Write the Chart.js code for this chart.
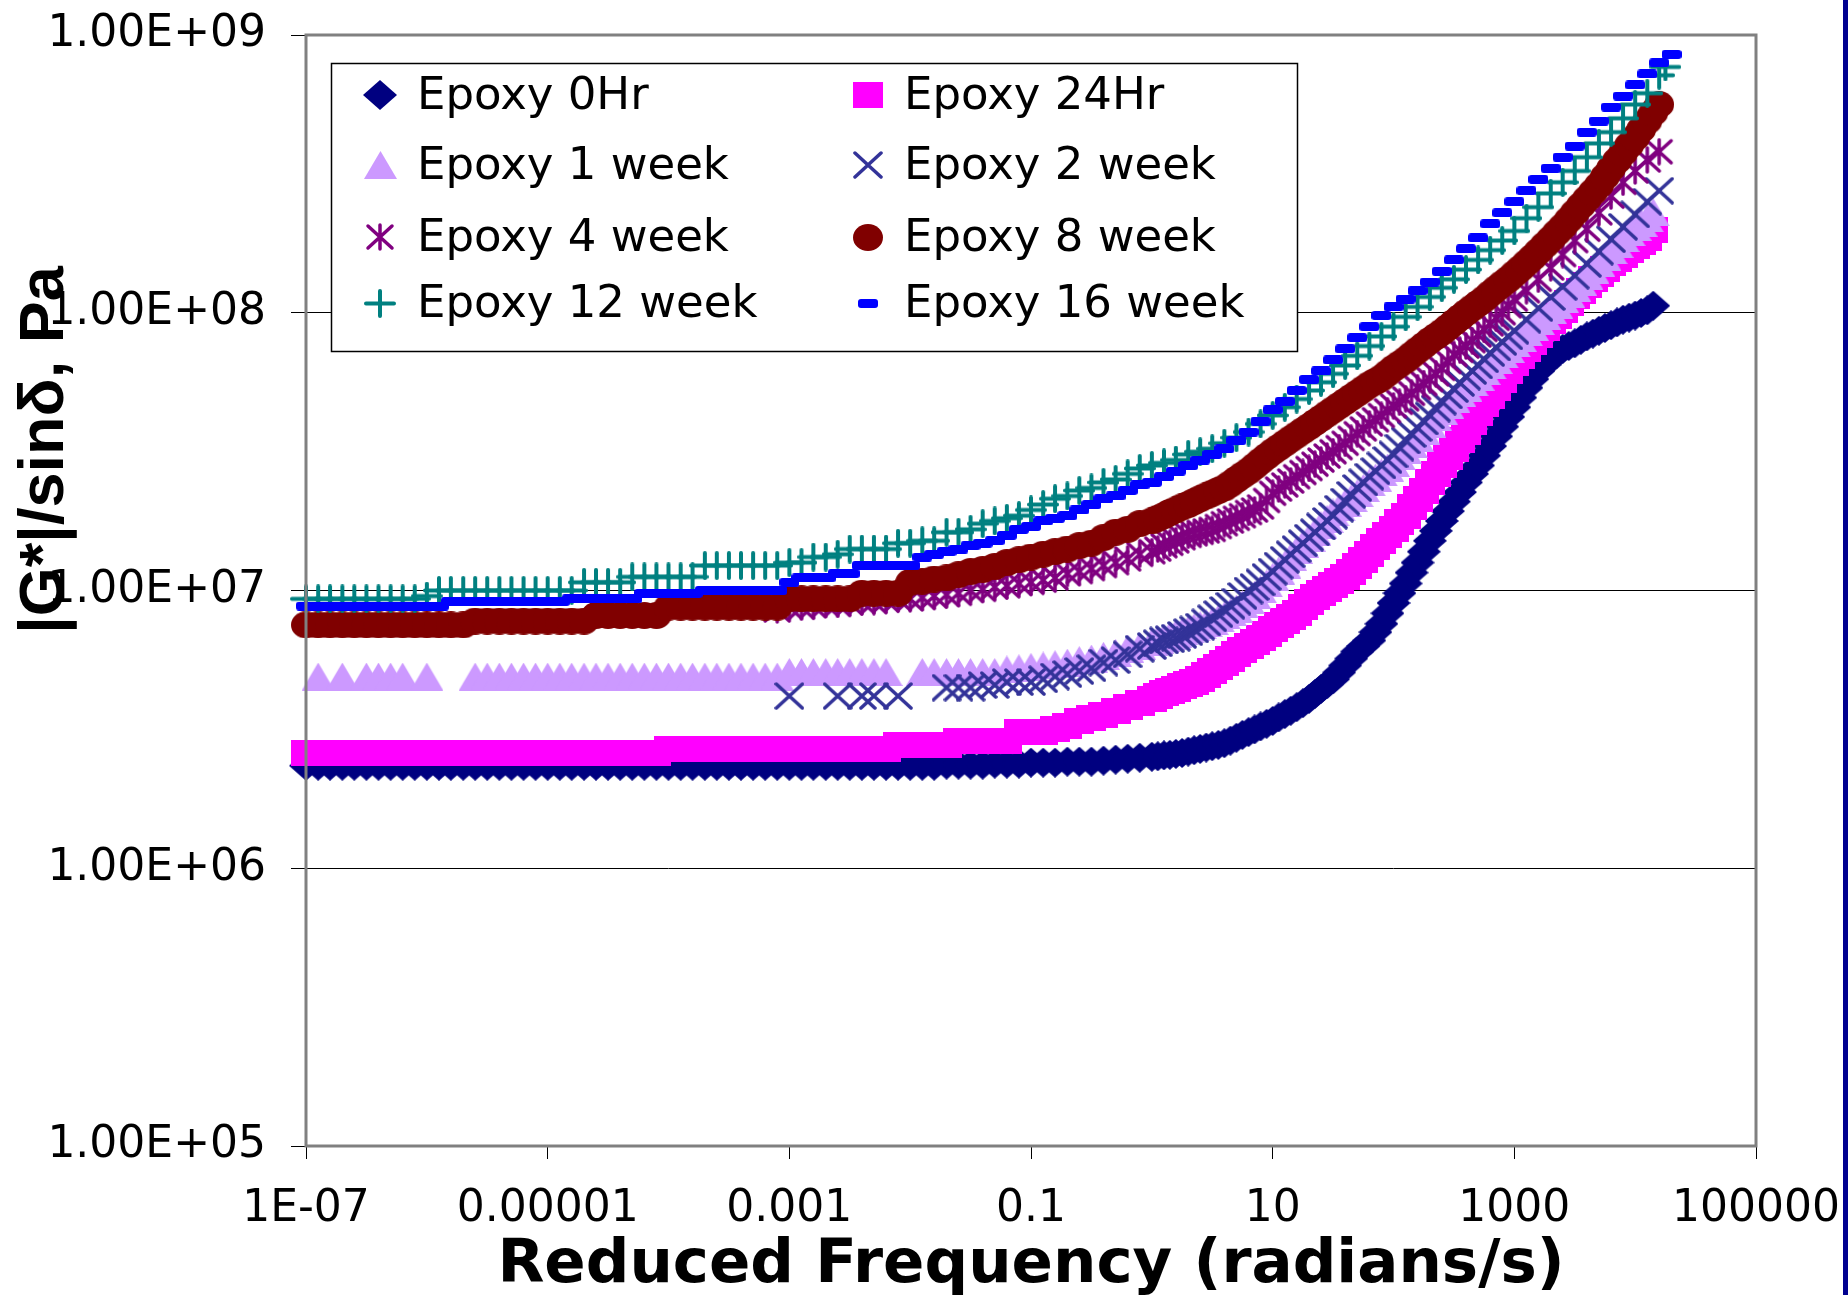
<!DOCTYPE html>
<html>
<head>
<meta charset="utf-8">
<title>Epoxy |G*|/sin&delta; vs reduced frequency</title>
<script src="https://cdn.jsdelivr.net/npm/chart.js@4.4.1/dist/chart.umd.min.js"></script>
<style>
  html, body { margin: 0; padding: 0; background: #fff; overflow: hidden; }
  #wrap { position: relative; width: 1848px; height: 1295px; }
  #edge { position: absolute; top: 0; left: 1843px; width: 5px; height: 1295px; background: #000090; }
</style>
</head>
<body>
<div id="wrap">
  <canvas id="chart" width="1848" height="1295"></canvas>
  <div id="edge"></div>
</div>
<script>
// reduced frequency (rad/s): 10 points per decade below 1 rad/s, 20 per decade above
const freq = [
  1e-7, 1.26e-7, 1.58e-7, 2e-7, 2.51e-7, 3.16e-7, 3.98e-7, 5.01e-7, 6.31e-7, 7.94e-7,
  1e-6, 1.26e-6, 1.58e-6, 2e-6, 2.51e-6, 3.16e-6, 3.98e-6, 5.01e-6, 6.31e-6, 7.94e-6,
  1e-5, 1.26e-5, 1.58e-5, 2e-5, 2.51e-5, 3.16e-5, 3.98e-5, 5.01e-5, 6.31e-5, 7.94e-5,
  1e-4, 1.26e-4, 1.58e-4, 2e-4, 2.51e-4, 3.16e-4, 3.98e-4, 5.01e-4, 6.31e-4, 7.94e-4,
  1e-3, 1.26e-3, 1.58e-3, 2e-3, 2.51e-3, 3.16e-3, 3.98e-3, 5.01e-3, 6.31e-3, 7.94e-3,
  1e-2, 1.26e-2, 1.58e-2, 2e-2, 2.51e-2, 3.16e-2, 3.98e-2, 5.01e-2, 6.31e-2, 7.94e-2,
  1e-1, 1.26e-1, 1.58e-1, 2e-1, 2.51e-1, 3.16e-1, 3.98e-1, 5.01e-1, 6.31e-1, 7.94e-1,
  1e0, 1.12e0, 1.26e0, 1.41e0, 1.58e0, 1.78e0, 2e0, 2.24e0, 2.51e0, 2.82e0,
  3.16e0, 3.55e0, 3.98e0, 4.47e0, 5.01e0, 5.62e0, 6.31e0, 7.08e0, 7.94e0, 8.91e0,
  1e1, 1.12e1, 1.26e1, 1.41e1, 1.58e1, 1.78e1, 2e1, 2.24e1, 2.51e1, 2.82e1,
  3.16e1, 3.55e1, 3.98e1, 4.47e1, 5.01e1, 5.62e1, 6.31e1, 7.08e1, 7.94e1, 8.91e1,
  1e2, 1.12e2, 1.26e2, 1.41e2, 1.58e2, 1.78e2, 2e2, 2.24e2, 2.51e2, 2.82e2,
  3.16e2, 3.55e2, 3.98e2, 4.47e2, 5.01e2, 5.62e2, 6.31e2, 7.08e2, 7.94e2, 8.91e2,
  1e3, 1.12e3, 1.26e3, 1.41e3, 1.58e3, 1.78e3, 2e3, 2.24e3, 2.51e3, 2.82e3,
  3.16e3, 3.55e3, 3.98e3, 4.47e3, 5.01e3, 5.62e3, 6.31e3, 7.08e3, 7.94e3, 8.91e3,
  1e4, 1.12e4, 1.26e4, 1.41e4, 1.58e4, 1.78e4, 2e4
];

// |G*|/sin(delta) in MPa, one value per freq entry (null = no point there)
const g0Hr = [
  2.34, 2.34, 2.34, 2.34, 2.34, 2.34, 2.34, 2.34, 2.34, 2.34,
  2.34, 2.34, 2.34, 2.34, 2.34, 2.34, 2.34, 2.34, 2.34, 2.34,
  2.34, 2.34, 2.34, 2.34, 2.34, 2.34, 2.34, 2.34, 2.34, 2.34,
  2.34, 2.34, 2.34, 2.34, 2.34, 2.34, 2.34, 2.34, 2.34, 2.34,
  2.34, 2.34, 2.34, 2.34, 2.34, 2.34, 2.34, 2.34, 2.34, 2.34,
  2.34, 2.34, 2.34, 2.36, 2.36, 2.36, 2.36, 2.38, 2.38, 2.38,
  2.40, 2.40, 2.40, 2.42, 2.42, 2.42, 2.44, 2.46, 2.48, 2.50,
  2.52, 2.53, 2.55, 2.56, 2.58, 2.60, 2.63, 2.66, 2.69, 2.72,
  2.75, 2.78, 2.82, 2.88, 2.95, 3.02, 3.09, 3.16, 3.24, 3.31,
  3.39, 3.49, 3.59, 3.69, 3.80, 3.93, 4.07, 4.24, 4.42, 4.60,
  4.79, 5.07, 5.37, 5.69, 6.03, 6.31, 6.61, 7.08, 7.59, 8.28,
  9.02, 9.78, 10.6, 11.6, 12.6, 13.8, 15.1, 16.4, 17.8, 19.3,
  20.9, 22.6, 24.5, 26.3, 28.2, 30.6, 33.1, 35.9, 38.9, 42.2,
  45.7, 49.5, 53.7, 57.7, 61.7, 65.0, 68.4, 71.3, 74.1, 75.9,
  77.6, 79.9, 82.2, 84.1, 86.1, 88.1, 90.2, 92.3, 94.4, 96.0,
  97.7, 99.8, 102, 106, null, null, null
];
const g24Hr = [
  2.61, 2.61, 2.61, 2.61, 2.61, 2.61, 2.61, 2.61, 2.61, 2.61,
  2.61, 2.61, 2.61, 2.61, 2.61, 2.61, 2.61, 2.61, 2.61, 2.61,
  2.61, 2.61, 2.61, 2.61, 2.61, 2.61, 2.61, 2.61, 2.61, 2.61,
  2.69, 2.69, 2.69, 2.69, 2.69, 2.69, 2.69, 2.69, 2.69, 2.69,
  2.69, 2.69, 2.69, 2.69, 2.69, 2.69, 2.69, 2.69, 2.69, 2.78,
  2.78, 2.78, 2.78, 2.78, 2.88, 2.88, 2.88, 2.88, 2.88, 3.09,
  3.09, 3.09, 3.16, 3.24, 3.39, 3.47, 3.55, 3.67, 3.80, 3.93,
  4.07, 4.17, 4.27, 4.34, 4.42, 4.52, 4.62, 4.70, 4.79, 4.96,
  5.13, 5.31, 5.50, 5.69, 5.89, 6.10, 6.31, 6.53, 6.76, 7.00,
  7.24, 7.50, 7.76, 8.04, 8.32, 8.71, 9.12, 9.44, 9.77, 10.1,
  10.5, 10.8, 11.2, 11.7, 12.3, 12.9, 13.5, 14.3, 15.1, 15.8,
  16.6, 17.6, 18.6, 20.0, 21.4, 22.9, 24.5, 26.3, 28.2, 30.2,
  32.4, 34.7, 37.2, 40.3, 43.7, 46.8, 50.1, 53.7, 57.5, 61.7,
  66.1, 70.0, 74.1, 78.5, 83.2, 88.1, 93.3, 97.7, 102, 108,
  115, 120, 126, 132, 138, 144, 151, 156, 162, 168,
  174, 180, 186, 198, null, null, null
];
const g1wk = [
  null, 4.90, null, 4.90, null, 4.90, 4.90, 4.90, 4.90, null,
  4.90, null, null, null, 4.90, 4.90, 4.90, 4.90, 4.90, 4.90,
  4.90, 4.90, 4.90, 4.90, 4.90, 4.90, 4.90, 4.90, 4.90, 4.90,
  4.90, 4.90, 4.90, 4.90, 4.90, 4.90, 4.90, 4.90, 4.90, 4.90,
  5.09, 5.09, 5.09, 5.09, 5.09, 5.09, 5.09, 5.09, 5.09, null,
  null, 5.09, 5.09, 5.09, 5.09, 5.09, 5.09, 5.09, 5.20, 5.25,
  5.31, 5.37, 5.43, 5.50, 5.62, 5.69, 5.82, 5.96, 6.17, 6.31,
  6.53, 6.64, 6.76, 6.88, 7.00, 7.12, 7.24, 7.37, 7.50, 7.63,
  7.76, 7.94, 8.13, 8.37, 8.61, 8.91, 9.23, 9.65, 10.1, 10.6,
  11.2, 11.8, 12.4, 13.2, 14.0, 14.7, 15.5, 16.3, 17.2, 18.1,
  19.1, 19.9, 20.7, 21.5, 22.4, 23.4, 24.5, 25.5, 26.6, 27.7,
  28.8, 30.4, 32.0, 33.7, 35.5, 37.6, 39.8, 42.0, 44.2, 46.5,
  49.0, 51.3, 53.7, 56.2, 58.9, 61.7, 64.6, 67.6, 70.8, 74.1,
  77.6, 81.3, 85.1, 89.1, 93.3, 97.7, 102, 107, 112, 117,
  123, 129, 136, 143, 151, 159, 168, 177, 186, 195,
  204, 211, 219, 230, null, null, null
];
const g2wk = [
  null, null, null, null, null, null, null, null, null, null,
  null, null, null, null, null, null, null, null, null, null,
  null, null, null, null, null, null, null, null, null, null,
  null, null, null, null, null, null, null, null, null, null,
  4.17, null, null, null, 4.17, null, 4.17, 4.17, null, 4.17,
  null, null, null, 4.47, 4.47, 4.47, 4.57, 4.57, 4.68, 4.68,
  4.68, 4.79, 4.90, 5.00, 5.13, 5.25, 5.50, 5.62, 5.89, 6.17,
  6.31, 6.46, 6.61, 6.68, 6.76, 6.92, 7.08, 7.24, 7.41, 7.67,
  7.94, 8.22, 8.51, 8.81, 9.12, 9.55, 10.0, 10.3, 10.7, 11.2,
  11.7, 12.3, 12.9, 13.5, 14.1, 14.8, 15.5, 16.2, 17.0, 17.8,
  18.6, 19.7, 20.9, 22.1, 23.4, 24.5, 25.7, 26.9, 28.2, 29.5,
  30.9, 32.7, 34.7, 36.6, 38.5, 40.6, 42.7, 45.2, 47.9, 50.4,
  53.1, 55.9, 58.9, 61.7, 64.6, 68.0, 71.6, 75.0, 78.5, 82.2,
  86.1, null, 94.4, null, 104, null, 114, null, 124, null,
  136, null, 150, null, 166, null, 184, null, 204, null,
  226, null, 251, null, 275, null, null
];
const g4wk = [
  null, null, null, null, null, null, null, null, null, null,
  null, null, null, null, null, null, null, null, null, null,
  null, null, null, null, null, null, null, null, null, null,
  null, null, null, null, null, null, null, null, null, 8.51,
  8.71, 8.71, 8.81, 8.91, 8.91, 9.02, 9.12, 9.12, 9.23, 9.33,
  9.33, 9.44, 9.55, 9.66, 9.77, 10.0, 10.1, 10.3, 10.4, 10.6,
  10.7, 10.9, 11.1, 11.5, 11.7, 12.0, 12.3, 12.6, 13.0, 13.5,
  13.8, 14.1, 14.5, 14.8, 15.1, 15.5, 15.8, 16.0, 16.2, 16.4,
  16.6, 17.0, 17.4, 17.8, 18.2, 18.6, 19.1, 19.5, 20.0, 21.1,
  22.4, 23.2, 24.0, 24.8, 25.7, 26.6, 27.5, 28.5, 29.5, 30.5,
  31.6, 32.7, 33.9, 35.3, 36.7, 38.2, 39.8, 41.2, 42.7, 44.4,
  46.2, 47.6, 49.0, 51.3, 53.7, 55.6, 57.5, 60.3, 63.1, 66.8,
  70.8, 73.3, 75.9, 79.4, 83.2, 87.1, 91.2, 95.5, 100, 106,
  112, null, 120, null, 132, null, 145, null, 162, null,
  182, null, 200, null, 229, null, 263, null, 295, null,
  324, null, 355, null, 380, null, null
];
const g8wk = [
  7.52, 7.52, 7.52, 7.52, 7.52, 7.52, 7.52, 7.52, 7.52, 7.52,
  7.52, 7.52, 7.52, 7.52, 7.76, 7.76, 7.76, 7.76, 7.76, 7.76,
  7.76, 7.76, 7.76, 7.76, 8.13, 8.13, 8.13, 8.13, 8.13, 8.13,
  8.71, 8.71, 8.71, 8.71, 8.71, 8.71, 8.71, 8.71, 8.71, 8.71,
  9.33, 9.33, 9.33, 9.33, 9.33, 9.33, 9.77, 9.77, 9.77, 9.77,
  10.7, 10.8, 11.0, 11.1, 11.4, 11.7, 11.9, 12.2, 12.6, 12.9,
  13.2, 13.5, 13.8, 14.1, 14.5, 14.8, 15.5, 16.2, 16.6, 17.4,
  17.8, 18.2, 18.6, 19.1, 19.5, 20.0, 20.4, 20.9, 21.4, 21.9,
  22.4, 22.9, 23.4, 24.2, 25.1, 26.0, 26.9, 28.0, 29.2, 30.4,
  31.6, 32.7, 33.9, 35.1, 36.3, 37.6, 38.9, 40.3, 41.7, 43.2,
  44.7, 46.3, 47.9, 49.6, 51.3, 53.1, 55.0, 56.6, 58.2, 60.6,
  63.1, 65.3, 67.6, 70.4, 73.3, 76.3, 79.4, 82.2, 85.1, 88.6,
  92.3, 96.1, 100, 104, 108, 112, 117, 122, 127, 132,
  138, 144, 151, 158, 166, 175, 184, 194, 204, 216,
  229, 243, 257, 272, 288, 309, 331, 353, 376, 401,
  427, 457, 490, 525, 562, null, null
];
const g12wk = [
  9.33, 9.33, 9.33, 9.33, 9.33, 9.33, 9.33, 9.33, 9.33, 9.33,
  9.55, 10.0, 10.0, 10.0, 10.0, 10.0, 10.0, 10.0, 10.0, 10.0,
  10.0, 10.0, 10.0, 10.7, 10.7, 10.7, 10.7, 11.2, 11.2, 11.2,
  11.2, 11.2, 11.2, 12.3, 12.3, 12.3, 12.3, 12.3, 12.3, 12.3,
  12.6, 12.6, 13.2, 13.2, 13.5, 14.1, 14.1, 14.1, 14.1, 14.8,
  14.8, 15.1, 15.1, 16.2, 16.2, 16.6, 17.4, 17.8, 18.2, 18.6,
  19.5, 20.4, 21.4, 21.9, 22.9, 23.4, 24.5, 25.1, 26.3, 27.5,
  28.2, null, 28.8, null, 29.5, null, 30.9, null, 31.6, null,
  32.4, null, 33.9, null, 35.5, null, 37.2, null, 39.8, null,
  42.7, null, 45.7, null, 48.9, null, 52.5, null, 56.2, null,
  60.3, null, 64.6, null, 70.0, null, 75.9, null, 82.2, null,
  89.1, null, 96.6, null, 105, null, 114, null, 123, null,
  132, null, 143, null, 155, null, 168, null, 182, null,
  197, null, 219, null, 240, null, 269, null, 295, null,
  324, null, 363, null, 407, null, 447, null, 501, null,
  562, null, 617, null, 716, 767, null
];
const g16wk = [
  8.79, 8.79, 8.79, 8.79, 8.79, 8.79, 8.79, 8.79, 8.79, 8.79,
  8.79, 8.79, 9.12, 9.12, 9.12, 9.12, 9.12, 9.12, 9.12, 9.12,
  9.12, 9.12, 9.33, 9.33, 9.33, 9.33, 9.33, 9.33, 9.77, 9.77,
  9.77, 9.77, 9.77, 10.0, 10.0, 10.0, 10.0, 10.0, 10.0, 10.0,
  10.7, 11.1, 11.1, 11.1, 11.5, 11.5, 12.3, 12.3, 12.3, 12.3,
  12.3, 13.2, 13.5, 13.8, 14.1, 14.5, 14.8, 15.1, 15.8, 16.6,
  17.0, 17.8, 18.2, 18.6, 19.5, 20.4, 21.4, 21.9, 22.9, 24.0,
  24.5, null, 25.7, null, 26.9, null, 28.2, null, 29.5, null,
  30.9, null, 32.4, null, 34.7, null, 37.2, null, 40.7, null,
  44.7, null, 47.9, null, 52.5, null, 57.5, null, 61.7, null,
  67.6, null, 74.1, null, 81.3, null, 89.1, null, 97.7, null,
  105, null, 112, null, 120, null, 129, null, 141, null,
  155, null, 170, null, 186, null, 209, null, 229, null,
  251, null, 275, null, 302, null, 331, null, 363, null,
  398, null, 447, null, 490, null, 550, null, 603, null,
  661, null, 724, null, 794, null, 851
];

const seriesNames = ['Epoxy 0Hr', 'Epoxy 24Hr', 'Epoxy 1 week', 'Epoxy 2 week',
                     'Epoxy 4 week', 'Epoxy 8 week', 'Epoxy 12 week', 'Epoxy 16 week'];
const seriesValues = [g0Hr, g24Hr, g1wk, g2wk, g4wk, g8wk, g12wk, g16wk];

const xTickValues = [1e-7, 1e-5, 1e-3, 1e-1, 1e1, 1e3, 1e5];
const xTickLabels = ['1E-07', '0.00001', '0.001', '0.1', '10', '1000', '100000'];
const yTickValues = [1e5, 1e6, 1e7, 1e8, 1e9];
const yTickLabels = ['1.00E+05', '1.00E+06', '1.00E+07', '1.00E+08', '1.00E+09'];

// Excel-like marker shapes, drawn once on small canvases
function marker(w, h, paint) {
    const c = document.createElement('canvas');
    c.width = w;
    c.height = h;
    paint(c.getContext('2d'), w, h);
    return c;
}

const markers = [
    marker(34, 30, (g, w, h) => {
        g.fillStyle = '#000080';
        g.beginPath();
        g.moveTo(w / 2, 0); g.lineTo(w, h / 2); g.lineTo(w / 2, h); g.lineTo(0, h / 2);
        g.closePath();
        g.fill();
    }),
    marker(30, 26, (g, w, h) => {
        g.fillStyle = '#FF00FF';
        g.fillRect(0, 0, w, h);
    }),
    marker(33, 28, (g, w, h) => {
        g.fillStyle = '#CC99FF';
        g.beginPath();
        g.moveTo(w / 2, 0); g.lineTo(w, h); g.lineTo(0, h);
        g.closePath();
        g.fill();
    }),
    marker(30, 28, (g, w, h) => {
        g.strokeStyle = '#333399';
        g.lineWidth = 3.5;
        g.lineCap = 'round';
        g.beginPath();
        g.moveTo(2, 2); g.lineTo(w - 2, h - 2);
        g.moveTo(w - 2, 2); g.lineTo(2, h - 2);
        g.stroke();
    }),
    marker(30, 28, (g, w, h) => {
        g.strokeStyle = '#800080';
        g.lineWidth = 3.5;
        g.lineCap = 'round';
        g.beginPath();
        g.moveTo(3, 3); g.lineTo(w - 3, h - 3);
        g.moveTo(w - 3, 3); g.lineTo(3, h - 3);
        g.moveTo(w / 2, 2); g.lineTo(w / 2, h - 2);
        g.stroke();
    }),
    marker(30, 27, (g, w, h) => {
        g.fillStyle = '#800000';
        g.beginPath();
        g.ellipse(w / 2, h / 2, w / 2, h / 2, 0, 0, Math.PI * 2);
        g.fill();
    }),
    marker(32, 29, (g, w, h) => {
        g.strokeStyle = '#008080';
        g.lineWidth = 4;
        g.lineCap = 'round';
        g.beginPath();
        g.moveTo(2, h / 2); g.lineTo(w - 2, h / 2);
        g.moveTo(w / 2, 2); g.lineTo(w / 2, h - 2);
        g.stroke();
    }),
    marker(20, 9, (g, w, h) => {
        g.fillStyle = '#0000FF';
        g.beginPath();
        g.roundRect(0, 0, w, h, 3);
        g.fill();
    })
];

function toPoints(values) {
    const pts = [];
    freq.forEach((f, i) => {
        if (values[i] !== null) pts.push({ x: f, y: values[i] * 1e6 });
    });
    return pts;
}

const datasets = seriesNames.map((name, i) => ({
    label: name,
    data: toPoints(seriesValues[i]),
    pointStyle: markers[i],
    pointRadius: 15,
    showLine: false,
    clip: false,
    order: seriesNames.length - 1 - i   // later series drawn on top, as in Excel
}));

// grey plot-area frame drawn over the points
const frame = {
    id: 'frame',
    afterDatasetsDraw(chart) {
        const { ctx, chartArea: a } = chart;
        ctx.save();
        ctx.strokeStyle = '#808080';
        ctx.lineWidth = 3;
        ctx.strokeRect(a.left, a.top, a.right - a.left, a.bottom - a.top);
        ctx.restore();
    }
};

// rotated y title, sits above the centre of the axis like the original
const yTitle = {
    id: 'yTitle',
    afterDraw(chart) {
        const ctx = chart.ctx;
        ctx.save();
        ctx.translate(63, 450);
        ctx.rotate(-Math.PI / 2);
        ctx.font = 'bold 63px "Liberation Sans", Arial, sans-serif';
        ctx.fillStyle = '#000';
        ctx.textAlign = 'center';
        ctx.textBaseline = 'alphabetic';
        ctx.fillText('|G*|/sin\u03B4, Pa', 0, 0);
        ctx.restore();
    }
};

// two-column boxed legend in the upper left of the plot
const legendBox = {
    id: 'legendBox',
    afterDraw(chart) {
        const ctx = chart.ctx;
        const rows = [109, 179, 251, 317];
        ctx.save();
        ctx.fillStyle = '#fff';
        ctx.fillRect(331, 63, 966, 288);
        ctx.strokeStyle = '#000';
        ctx.lineWidth = 1.5;
        ctx.strokeRect(331.5, 63.5, 966, 288);
        ctx.font = '45px "DejaVu Sans", sans-serif';
        ctx.fillStyle = '#000';
        ctx.textBaseline = 'alphabetic';
        seriesNames.forEach((name, i) => {
            const col = i % 2;
            const y = rows[Math.floor(i / 2)];
            const mx = col ? 868 : 380;
            const tx = col ? 904 : 417;
            const m = markers[i];
            ctx.drawImage(m, Math.round(mx - m.width / 2), Math.round(y - 14 - m.height / 2));
            ctx.fillText(name, tx, y);
        });
        ctx.restore();
    }
};

const tickFont = { family: 'DejaVu Sans', size: 44 };

new Chart(document.getElementById('chart'), {
    type: 'scatter',
    data: { datasets: datasets },
    options: {
        responsive: false,
        maintainAspectRatio: false,
        devicePixelRatio: 1,
        animation: false,
        events: [],
        layout: { padding: { top: 35, right: 92, left: 0, bottom: 0 } },
        plugins: {
            legend: { display: false },
            tooltip: { enabled: false }
        },
        scales: {
            x: {
                type: 'logarithmic',
                min: 1e-7,
                max: 1e5,
                afterBuildTicks: (axis) => { axis.ticks = xTickValues.map(v => ({ value: v })); },
                afterFit: (axis) => {
                    axis.height = 149;
                    axis.paddingLeft = 0;
                    axis.paddingRight = 0;
                },
                ticks: {
                    callback: (v, i) => xTickLabels[i],
                    font: tickFont,
                    color: '#000',
                    padding: 24,
                    maxRotation: 0,
                    autoSkip: false
                },
                grid: { drawOnChartArea: false, color: '#000', lineWidth: 1, tickLength: 13 },
                border: { display: false },
                title: {
                    display: true,
                    text: 'Reduced Frequency (radians/s)',
                    font: { family: 'DejaVu Sans', size: 61, weight: 'bold', lineHeight: 0.95 },
                    color: '#000',
                    padding: { top: 0, bottom: 0 }
                }
            },
            y: {
                type: 'logarithmic',
                min: 1e5,
                max: 1e9,
                afterBuildTicks: (axis) => { axis.ticks = yTickValues.map(v => ({ value: v })); },
                afterFit: (axis) => {
                    axis.width = 306;
                    axis.paddingTop = 0;
                    axis.paddingBottom = 0;
                },
                ticks: {
                    callback: (v, i) => yTickLabels[i],
                    font: tickFont,
                    color: '#000',
                    padding: 25,
                    autoSkip: false
                },
                grid: { color: '#000', lineWidth: 1, tickLength: 15 },
                border: { display: false }
            }
        }
    },
    plugins: [frame, yTitle, legendBox]
});
</script>
</body>
</html>
